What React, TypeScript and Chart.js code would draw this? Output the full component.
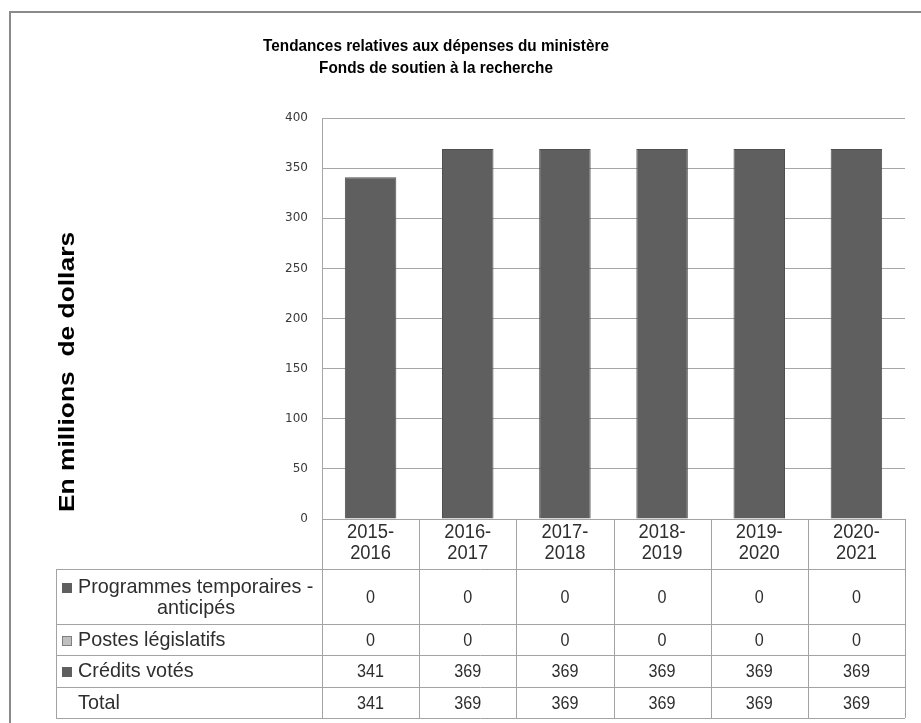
import React, { useEffect, useRef } from "react";
import { Chart, registerables } from "chart.js";

Chart.register(...registerables);

// ---------- data ----------
const categories: string[][] = [
  ["2015-", "2016"],
  ["2016-", "2017"],
  ["2017-", "2018"],
  ["2018-", "2019"],
  ["2019-", "2020"],
  ["2020-", "2021"],
];
const programmesTemporaires: number[] = [0, 0, 0, 0, 0, 0];
const postesLegislatifs: number[] = [0, 0, 0, 0, 0, 0];
const creditsVotes: number[] = [341, 369, 369, 369, 369, 369];
const totals: number[] = [341, 369, 369, 369, 369, 369];
const yMin = 0;
const yMax = 400;
const yStep = 50;
const titleLines: string[] = [
  "Tendances relatives aux dépenses du ministère",
  "Fonds de soutien à la recherche",
];
const yAxisTitle = "En millions  de dollars";
const seriesNames: string[][] = [
  ["Programmes temporaires -", "anticipés"],
  ["Postes législatifs"],
  ["Crédits votés"],
  ["Total"],
];

const DARK = "#5f5f5f";
const LIGHT = "#bfbfbf";
const LINE = "#a3a3a3";
const TEXT = "#2e2e2e";

function scaledText(
  ctx: CanvasRenderingContext2D,
  text: string,
  x: number,
  y: number,
  sx: number,
  sy: number
) {
  ctx.save();
  ctx.translate(x, y);
  ctx.scale(sx, sy);
  ctx.fillText(text, 0, 0);
  ctx.restore();
}

const tablePlugin = {
  id: "tablePlugin",
  beforeDraw(chart: any) {
    const ctx = chart.ctx;
    ctx.save();
    ctx.fillStyle = "#ffffff";
    ctx.fillRect(0, 0, chart.width, chart.height);
    ctx.restore();
  },
  afterDraw(chart: any) {
    const ctx: CanvasRenderingContext2D = chart.ctx;
    const area = chart.chartArea;
    const xs = chart.scales.x;
    const n = categories.length;
    const colW = (area.right - area.left) / n;
    ctx.save();

    // outer frame
    ctx.strokeStyle = "#8a8a8a";
    ctx.lineWidth = 2;
    ctx.strokeRect(10, 12, 2000, 2000);

    // title
    ctx.fillStyle = "#000";
    ctx.font = "bold 15px 'Liberation Sans', Arial, sans-serif";
    ctx.textAlign = "center";
    ctx.textBaseline = "middle";
    scaledText(ctx, titleLines[0], 436, 46, 1.02, 1.12);
    scaledText(ctx, titleLines[1], 436, 68, 1.02, 1.12);

    // y axis title
    ctx.save();
    ctx.translate(68, 372);
    ctx.rotate(-Math.PI / 2);
    ctx.font = "bold 22px 'Liberation Sans', Arial, sans-serif";
    ctx.fillStyle = "#000";
    ctx.scale(1.2, 1);
    ctx.fillText(yAxisTitle, 0, 0);
    ctx.restore();

    // table geometry
    const tableLeft = 56;
    const headTop = Math.round(area.bottom);
    const rows = [569, 624, 655, 687, 718];
    const right = Math.round(area.right);

    ctx.strokeStyle = LINE;
    ctx.lineWidth = 1;
    ctx.beginPath();
    ctx.moveTo(area.left, headTop + 0.5);
    ctx.lineTo(right, headTop + 0.5);
    rows.forEach((y) => {
      ctx.moveTo(tableLeft, y + 0.5);
      ctx.lineTo(right, y + 0.5);
    });
    ctx.moveTo(tableLeft + 0.5, rows[0]);
    ctx.lineTo(tableLeft + 0.5, rows[rows.length - 1]);
    for (let i = 0; i <= n; i++) {
      const x = Math.round(area.left + i * colW) + 0.5;
      ctx.moveTo(x, headTop);
      ctx.lineTo(x, rows[rows.length - 1]);
    }
    ctx.stroke();

    const SY = 1.08;

    // header
    ctx.fillStyle = TEXT;
    ctx.font = "18px 'Liberation Sans', Arial, sans-serif";
    ctx.textAlign = "center";
    ctx.textBaseline = "middle";
    categories.forEach((c, i) => {
      const cx = xs.getPixelForValue(i);
      scaledText(ctx, c[0], cx, 533, 1.02, SY);
      scaledText(ctx, c[1], cx, 554, 1.02, SY);
    });

    // row data
    const rowData = [programmesTemporaires, postesLegislatifs, creditsVotes, totals];
    const rowColors = [DARK, LIGHT, DARK, null];
    rowData.forEach((vals, r) => {
      const top = rows[r];
      const bot = rows[r + 1];
      const cy = (top + bot) / 2 + 1;
      ctx.font = "17px 'Liberation Sans', Arial, sans-serif";
      vals.forEach((v, i) => {
        const cx = xs.getPixelForValue(i);
        ctx.textAlign = "center";
        scaledText(ctx, String(v), cx, cy, 0.95, SY);
      });
      ctx.font = "18px 'Liberation Sans', Arial, sans-serif";
      const names = seriesNames[r];
      const col = rowColors[r];
      if (names.length === 2) {
        const y1 = cy - 10;
        const y2 = cy + 11;
        ctx.textAlign = "left";
        scaledText(ctx, names[0], 78, y1, 1.1, SY);
        ctx.textAlign = "center";
        scaledText(ctx, names[1], 196, y2, 1.1, SY);
        if (col) drawSquare(ctx, 62, y1, col);
      } else {
        ctx.textAlign = "left";
        scaledText(ctx, names[0], 78, cy, 1.1, SY);
        if (col) drawSquare(ctx, 62, cy, col);
      }
    });
    ctx.restore();
  },
};

function drawSquare(ctx: CanvasRenderingContext2D, x: number, cy: number, col: string) {
  ctx.save();
  ctx.fillStyle = col;
  ctx.fillRect(x, Math.round(cy - 5), 10, 10);
  if (col === LIGHT) {
    ctx.strokeStyle = "#7f7f7f";
    ctx.lineWidth = 1;
    ctx.strokeRect(x + 0.5, Math.round(cy - 5) + 0.5, 9, 9);
  }
  ctx.restore();
}

export default function App() {
  const ref = useRef<HTMLCanvasElement | null>(null);
  useEffect(() => {
    if (!ref.current) return;
    const chart = new Chart(ref.current, {
      type: "bar",
      data: {
        labels: categories.map((c) => c.join("")),
        datasets: [
          {
            label: seriesNames[2].join(" "),
            data: creditsVotes,
            backgroundColor: DARK,
            borderColor: "#4f4f4f",
            borderWidth: 1,
            barPercentage: 0.53,
            categoryPercentage: 1,
          },
          {
            label: seriesNames[1].join(" "),
            data: postesLegislatifs,
            backgroundColor: LIGHT,
            borderWidth: 0,
            barPercentage: 0.53,
            categoryPercentage: 1,
          },
          {
            label: seriesNames[0].join(" "),
            data: programmesTemporaires,
            backgroundColor: DARK,
            borderWidth: 0,
            barPercentage: 0.53,
            categoryPercentage: 1,
          },
        ],
      },
      options: {
        responsive: false,
        animation: false,
        layout: { padding: { left: 0, top: 118, right: 16, bottom: 204 } },
        plugins: {
          legend: { display: false },
          title: { display: false },
          tooltip: { enabled: false },
        },
        scales: {
          x: { stacked: true, display: false },
          y: {
            stacked: true,
            min: yMin,
            max: yMax,
            ticks: {
              stepSize: yStep,
              padding: 14,
              color: "#3a3a3a",
              font: { family: "'DejaVu Sans', sans-serif", size: 12 },
            },
            grid: { color: "#a6a6a6", drawTicks: false },
            border: { display: true, color: "#a6a6a6" },
            afterFit: (scale: any) => {
              scale.width = 322;
            },
          },
        },
      },
      plugins: [tablePlugin],
    });
    return () => chart.destroy();
  }, []);
  return (
    <div style={{ position: "absolute", left: 0, top: 0, width: 921, height: 723 }}>
      <canvas ref={ref} width={921} height={723} style={{ display: "block" }} />
    </div>
  );
}
